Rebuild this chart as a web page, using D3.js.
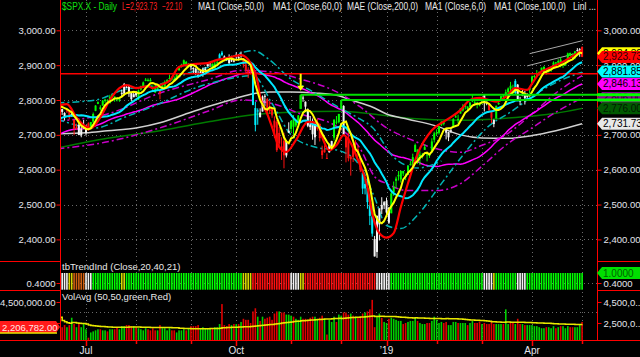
<!DOCTYPE html>
<html>
<head>
<meta charset="utf-8">
<script src="https://cdn.jsdelivr.net/npm/d3@7"></script>
<style>
body { margin: 0; background: #000; }
svg { display: block; }
text { font-family: 'Liberation Sans', Arial, sans-serif; }
</style>
</head>
<body>
<div id="chart"></div>
<script>
// trading days shown on the chart (Jun 14 2018 .. May 1 2019)
var tradingDays = {
  '2018-06': [14, 15, 18, 19, 20, 21, 22, 25, 26, 27, 28, 29],
  '2018-07': [2, 3, 5, 6, 9, 10, 11, 12, 13, 16, 17, 18, 19, 20, 23, 24, 25, 26, 27, 30, 31],
  '2018-08': [1, 2, 3, 6, 7, 8, 9, 10, 13, 14, 15, 16, 17, 20, 21, 22, 23, 24, 27, 28, 29, 30, 31],
  '2018-09': [4, 5, 6, 7, 10, 11, 12, 13, 14, 17, 18, 19, 20, 21, 24, 25, 26, 27, 28],
  '2018-10': [1, 2, 3, 4, 5, 8, 9, 10, 11, 12, 15, 16, 17, 18, 19, 22, 23, 24, 25, 26, 29, 30, 31],
  '2018-11': [1, 2, 5, 6, 7, 8, 9, 12, 13, 14, 15, 16, 19, 20, 21, 23, 26, 27, 28, 29, 30],
  '2018-12': [3, 4, 6, 7, 10, 11, 12, 13, 14, 17, 18, 19, 20, 21, 24, 26, 27, 28, 31],
  '2019-01': [2, 3, 4, 7, 8, 9, 10, 11, 14, 15, 16, 17, 18, 22, 23, 24, 25, 28, 29, 30, 31],
  '2019-02': [1, 4, 5, 6, 7, 8, 11, 12, 13, 14, 15, 19, 20, 21, 22, 25, 26, 27, 28],
  '2019-03': [1, 4, 5, 6, 7, 8, 11, 12, 13, 14, 15, 18, 19, 20, 21, 22, 25, 26, 27, 28, 29],
  '2019-04': [1, 2, 3, 4, 5, 8, 9, 10, 11, 12, 15, 16, 17, 18, 22, 23, 24, 25, 26, 29, 30],
  '2019-05': [1]
}

// closes before the first bar (Apr 2 .. Jun 13 2018), only used to warm up the averages
var warmupClose = [2581.88, 2614.45, 2644.69, 2662.84, 2604.47, 2613.16, 2656.87, 2642.19, 2663.99, 2656.30, 2677.84, 2706.39, 2708.64, 2693.13, 2670.14, 2670.29, 2634.56, 2639.40, 2666.94, 2669.91, 2648.05,
  2654.80, 2635.67, 2629.73, 2663.42, 2672.63, 2671.92, 2697.79, 2723.07, 2727.72, 2730.13, 2711.45, 2722.46, 2720.13, 2712.97, 2733.01, 2724.44, 2733.29, 2727.76, 2721.33, 2689.86, 2724.01, 2705.27,
  2734.62, 2746.87, 2748.80, 2772.35, 2770.37, 2779.03, 2782.00, 2786.85, 2775.63]

var openPx = [2783, 2778, 2766, 2752, 2770, 2769, 2760, 2743, 2722, 2729, 2699, 2728,
  2705, 2733, 2724, 2738, 2769, 2789, 2779, 2784, 2797, 2799, 2791, 2811, 2810, 2804, 2799, 2820, 2818, 2836, 2843, 2820, 2808,
  2822, 2802, 2830, 2840, 2855, 2856, 2858, 2838, 2835, 2828, 2827, 2831, 2838, 2853, 2861, 2860, 2860, 2862, 2885, 2901, 2900, 2909, 2899,
  2897, 2892, 2889, 2868, 2882, 2872, 2889, 2897, 2906, 2904, 2891, 2906, 2916, 2936, 2925, 2921, 2917, 2911, 2910,
  2926, 2923, 2932, 2919, 2902, 2878, 2883, 2874, 2777, 2770, 2764, 2767, 2812, 2803, 2776, 2774, 2721, 2737, 2675, 2667, 2683, 2641, 2706,
  2717, 2745, 2727, 2738, 2775, 2807, 2795, 2773, 2730, 2738, 2693, 2718, 2731, 2655, 2658, 2634, 2650, 2663, 2692, 2736, 2737,
  2790, 2783, 2664, 2691, 2630, 2664, 2658, 2659, 2635, 2591, 2559, 2547, 2497, 2466, 2401, 2364, 2443, 2499, 2498,
  2477, 2491, 2475, 2535, 2568, 2581, 2572, 2589, 2581, 2585, 2614, 2610, 2651, 2658, 2643, 2638, 2657, 2644, 2645, 2654, 2686,
  2703, 2706, 2728, 2736, 2718, 2693, 2713, 2722, 2751, 2743, 2761, 2770, 2780, 2781, 2780, 2804, 2793, 2787, 2789,
  2798, 2814, 2795, 2791, 2766, 2731, 2747, 2788, 2800, 2811, 2810, 2822, 2841, 2831, 2820, 2844, 2796, 2812, 2820, 2809, 2829,
  2848, 2869, 2877, 2873, 2884, 2888, 2886, 2882, 2892, 2901, 2908, 2912, 2916, 2904, 2899, 2910, 2935, 2928, 2926, 2941, 2937,
  2952]
var highPx = [2789, 2782, 2775, 2765, 2774, 2770, 2764, 2743, 2732, 2746, 2725, 2743,
  2727, 2736, 2737, 2764, 2785, 2796, 2785, 2800, 2804, 2802, 2815, 2816, 2810, 2808, 2808, 2829, 2849, 2845, 2844, 2822, 2825,
  2826, 2830, 2841, 2853, 2863, 2862, 2863, 2842, 2843, 2843, 2827, 2850, 2856, 2860, 2873, 2867, 2868, 2876, 2898, 2904, 2916, 2912, 2906,
  2900, 2894, 2893, 2884, 2884, 2893, 2895, 2906, 2908, 2905, 2911, 2912, 2934, 2941, 2928, 2923, 2931, 2927, 2920,
  2937, 2932, 2939, 2920, 2910, 2894, 2894, 2874, 2795, 2776, 2776, 2813, 2817, 2806, 2797, 2778, 2753, 2743, 2723, 2693, 2706, 2685, 2736,
  2741, 2757, 2745, 2757, 2815, 2814, 2796, 2776, 2754, 2747, 2735, 2747, 2733, 2669, 2670, 2647, 2675, 2683, 2744, 2754, 2760,
  2800, 2785, 2697, 2708, 2640, 2674, 2685, 2670, 2635, 2601, 2573, 2585, 2509, 2504, 2410, 2468, 2489, 2521, 2510,
  2520, 2493, 2538, 2566, 2580, 2596, 2597, 2597, 2589, 2613, 2625, 2646, 2675, 2658, 2653, 2648, 2673, 2644, 2647, 2690, 2709,
  2716, 2725, 2739, 2739, 2720, 2709, 2719, 2748, 2761, 2758, 2776, 2788, 2790, 2782, 2794, 2814, 2804, 2795, 2793,
  2808, 2817, 2795, 2791, 2766, 2744, 2784, 2799, 2812, 2816, 2830, 2836, 2852, 2844, 2860, 2846, 2809, 2830, 2826, 2819, 2836,
  2870, 2872, 2886, 2882, 2893, 2896, 2886, 2889, 2893, 2911, 2909, 2917, 2922, 2908, 2910, 2936, 2936, 2934, 2940, 2949, 2949,
  2954]
var lowPx = [2776, 2762, 2757, 2741, 2763, 2744, 2752, 2699, 2715, 2699, 2693, 2718,
  2698, 2712, 2716, 2733, 2768, 2788, 2770, 2784, 2792, 2794, 2790, 2805, 2795, 2796, 2795, 2811, 2813, 2835, 2809, 2796, 2808,
  2809, 2800, 2827, 2836, 2854, 2853, 2853, 2826, 2820, 2826, 2802, 2831, 2833, 2850, 2860, 2856, 2854, 2862, 2885, 2893, 2899, 2895, 2893,
  2885, 2876, 2872, 2864, 2874, 2867, 2880, 2896, 2895, 2887, 2890, 2903, 2916, 2926, 2912, 2913, 2903, 2909, 2908,
  2917, 2913, 2921, 2893, 2875, 2863, 2874, 2785, 2710, 2729, 2750, 2767, 2782, 2756, 2760, 2749, 2691, 2651, 2667, 2628, 2604, 2635, 2706,
  2708, 2700, 2722, 2734, 2774, 2795, 2766, 2722, 2714, 2686, 2671, 2712, 2681, 2631, 2649, 2631, 2649, 2656, 2684, 2730, 2733,
  2774, 2697, 2621, 2624, 2583, 2622, 2650, 2637, 2593, 2530, 2529, 2488, 2441, 2408, 2351, 2347, 2397, 2473, 2487,
  2467, 2444, 2475, 2525, 2547, 2569, 2563, 2582, 2570, 2585, 2612, 2606, 2651, 2617, 2613, 2632, 2657, 2624, 2634, 2648, 2678,
  2697, 2701, 2725, 2727, 2687, 2682, 2705, 2722, 2749, 2733, 2761, 2767, 2773, 2767, 2780, 2794, 2789, 2776, 2782,
  2788, 2767, 2785, 2768, 2734, 2722, 2747, 2786, 2800, 2804, 2810, 2818, 2823, 2813, 2817, 2800, 2785, 2811, 2787, 2802, 2819,
  2848, 2862, 2868, 2870, 2883, 2880, 2873, 2879, 2881, 2899, 2897, 2905, 2894, 2892, 2899, 2908, 2926, 2916, 2917, 2939, 2924,
  2923]
var closePx = [2782.49, 2779.66, 2773.75, 2762.59, 2767.32, 2749.76, 2754.88, 2717.07, 2723.06, 2699.63, 2716.31, 2718.37,
  2726.71, 2713.22, 2736.61, 2759.82, 2784.17, 2793.84, 2774.02, 2798.29, 2801.31, 2798.43, 2809.55, 2815.62, 2804.49, 2801.83, 2806.98, 2820.40, 2846.07, 2837.44, 2818.82, 2802.60, 2816.29,
  2813.36, 2827.22, 2840.35, 2850.40, 2858.45, 2857.70, 2853.58, 2833.28, 2821.93, 2839.96, 2818.37, 2840.69, 2850.13, 2857.05, 2862.96, 2861.82, 2856.98, 2874.69, 2896.74, 2897.52, 2914.04, 2901.13, 2901.52,
  2896.72, 2888.60, 2878.05, 2871.68, 2877.13, 2887.89, 2888.92, 2904.18, 2904.98, 2888.80, 2904.31, 2907.95, 2930.75, 2929.67, 2919.37, 2915.56, 2905.97, 2914.00, 2913.98,
  2924.59, 2923.43, 2925.51, 2901.61, 2885.57, 2884.43, 2880.34, 2785.68, 2728.37, 2767.13, 2750.79, 2809.92, 2809.21, 2768.78, 2767.78, 2755.88, 2740.69, 2656.10, 2705.57, 2658.69, 2641.25, 2682.63, 2711.74,
  2740.37, 2723.06, 2738.31, 2755.45, 2813.89, 2806.83, 2781.01, 2726.22, 2722.18, 2701.58, 2730.20, 2736.27, 2690.73, 2641.89, 2649.93, 2632.56, 2673.45, 2682.17, 2743.79, 2737.80, 2760.17,
  2790.37, 2700.06, 2695.95, 2633.08, 2637.72, 2636.78, 2651.07, 2650.54, 2599.95, 2545.94, 2546.16, 2506.96, 2467.42, 2416.62, 2351.10, 2467.70, 2488.83, 2485.74, 2506.85,
  2510.03, 2447.89, 2531.94, 2549.69, 2574.41, 2584.96, 2596.64, 2596.26, 2582.61, 2610.30, 2616.10, 2635.96, 2670.71, 2632.90, 2638.70, 2642.33, 2664.76, 2643.85, 2640.00, 2681.05, 2704.10,
  2706.53, 2724.87, 2737.70, 2731.61, 2706.05, 2707.88, 2709.80, 2744.73, 2753.03, 2745.73, 2775.60, 2779.76, 2784.70, 2774.88, 2792.67, 2796.11, 2793.90, 2792.38, 2784.49,
  2803.69, 2792.81, 2789.65, 2771.45, 2748.93, 2743.07, 2783.30, 2791.52, 2810.92, 2808.48, 2822.48, 2832.94, 2832.57, 2824.23, 2854.88, 2800.71, 2798.36, 2818.46, 2805.37, 2815.44, 2834.40,
  2867.19, 2867.24, 2873.40, 2879.39, 2892.74, 2895.77, 2878.20, 2888.21, 2888.32, 2907.41, 2905.58, 2907.06, 2900.45, 2905.03, 2907.97, 2933.68, 2927.25, 2926.17, 2939.88, 2943.03, 2945.83,
  2923.73]

// volume, millions of shares
var volumeMil = [2.2, 3.9, 2.1, 2.3, 2.1, 2.3, 3.0, 2.4, 2.1, 2.4, 2.1, 2.5,
  1.9, 1.1, 1.6, 1.7, 1.8, 1.9, 1.9, 1.8, 1.8, 1.7, 1.9, 1.9, 1.9, 2.1, 1.9, 2.2, 2.2, 2.3, 2.3, 2.2, 2.2,
  2.1, 2.0, 1.9, 1.8, 2.0, 1.9, 1.8, 2.0, 1.8, 1.8, 2.3, 2.0, 2.0, 1.8, 2.0, 1.8, 1.8, 1.6, 1.8, 1.8, 1.9, 1.8, 2.0,
  2.2, 2.2, 2.2, 2.3, 2.0, 2.1, 2.0, 2.0, 2.0, 2.0, 2.1, 2.1, 2.4, 4.3, 2.3, 2.2, 2.4, 2.3, 2.4,
  2.4, 2.4, 2.6, 2.9, 2.8, 2.8, 2.5, 3.6, 3.9, 3.1, 2.7, 3.1, 2.9, 3.0, 3.1, 2.8, 3.4, 3.6, 3.6, 3.5, 3.5, 3.3, 3.3,
  3.2, 3.1, 2.9, 2.8, 3.1, 2.9, 2.9, 2.8, 3.0, 3.1, 3.1, 2.8, 3.0, 3.2, 2.9, 1.4, 2.8, 2.6, 3.1, 2.6, 3.3,
  3.2, 3.5, 3.5, 3.3, 3.4, 3.2, 3.1, 3.0, 3.1, 3.4, 3.5, 3.6, 3.8, 4.7, 2.1, 3.2, 3.4, 3.0, 2.6,
  2.5, 2.9, 3.0, 2.9, 2.8, 2.7, 2.7, 2.4, 2.5, 2.6, 2.7, 2.7, 3.0, 2.7, 2.5, 2.4, 2.4, 2.5, 2.5, 2.7, 3.1,
  2.8, 2.5, 2.6, 2.5, 2.6, 2.3, 2.3, 2.6, 2.6, 2.5, 2.5, 2.5, 2.5, 2.3, 2.5, 2.7, 2.5, 2.5, 2.6,
  2.4, 2.5, 2.4, 2.4, 2.6, 2.4, 2.4, 2.4, 2.4, 2.4, 3.8, 2.4, 2.5, 2.6, 2.4, 2.9, 2.4, 2.4, 2.3, 2.3, 2.3,
  2.3, 2.2, 2.2, 2.1, 2.0, 2.0, 2.1, 2.1, 2.0, 2.2, 2.0, 2.1, 2.2, 2.2, 2.0, 2.2, 2.1, 2.1, 2.1, 2.1, 2.4,
  2.6]
var volAvgLast = 2206782

// bar colours: G green, R red, W white, C cyan (each run starts at the date given)
var candleRuns = [['2018-06-14', 'R'], ['2018-06-18', 'W'], ['2018-06-20', 'R'], ['2018-06-22', 'W'], ['2018-06-25', 'R'], ['2018-06-27', 'W'],
  ['2018-07-03', 'R'], ['2018-07-05', 'G'], ['2018-07-24', 'W'], ['2018-08-02', 'G'], ['2018-08-15', 'R'], ['2018-08-16', 'G'],
  ['2018-09-04', 'W'], ['2018-09-17', 'G'], ['2018-09-20', 'C'], ['2018-09-24', 'W'], ['2018-10-04', 'R'], ['2018-10-10', 'C'],
  ['2018-10-15', 'W'], ['2018-10-18', 'R'], ['2018-10-30', 'W'], ['2018-11-01', 'G'], ['2018-11-08', 'W'], ['2018-11-16', 'R'],
  ['2018-11-26', 'W'], ['2018-11-28', 'G'], ['2018-12-04', 'W'], ['2018-12-06', 'R'], ['2018-12-17', 'C'], ['2018-12-24', 'W'],
  ['2019-01-04', 'G'], ['2019-02-07', 'W'], ['2019-02-12', 'G'], ['2019-03-04', 'W'], ['2019-03-06', 'R'], ['2019-03-08', 'W'],
  ['2019-03-11', 'G'], ['2019-03-21', 'C'], ['2019-03-22', 'W'], ['2019-03-29', 'G'], ['2019-04-29', 'W'], ['2019-05-01', 'R']]

// tbTrendInd colours: G green, Y yellow, W white, O orange, R red
var trendRuns = [['2018-06-14', 'Y'], ['2018-06-18', 'W'], ['2018-06-21', 'Y'], ['2018-06-25', 'O'], ['2018-07-02', 'W'], ['2018-07-06', 'G'],
  ['2018-07-24', 'Y'], ['2018-07-26', 'G'], ['2018-10-04', 'Y'], ['2018-10-10', 'R'], ['2018-11-01', 'W'], ['2018-11-07', 'Y'],
  ['2018-11-09', 'R'], ['2018-12-26', 'W'], ['2019-01-04', 'G'], ['2019-03-04', 'W'], ['2019-03-08', 'Y'], ['2019-03-11', 'G'],
  ['2019-03-22', 'W'], ['2019-03-28', 'G']]

// long averages (date, price)
var ma100Pts = [['2018-06-14', 2703], ['2018-07-02', 2706], ['2018-07-16', 2712], ['2018-08-01', 2720], ['2018-08-15', 2735], ['2018-09-04', 2765],
  ['2018-09-17', 2785], ['2018-10-01', 2805], ['2018-10-10', 2818], ['2018-10-19', 2823], ['2018-11-01', 2823], ['2018-11-15', 2820],
  ['2018-11-30', 2812], ['2018-12-10', 2800], ['2018-12-21', 2780], ['2019-01-02', 2760], ['2019-01-15', 2745], ['2019-02-01', 2725],
  ['2019-02-15', 2700], ['2019-03-01', 2691], ['2019-03-15', 2690], ['2019-04-01', 2698], ['2019-04-15', 2712], ['2019-05-01', 2731.73]]
var ma200Pts = [['2018-06-14', 2662], ['2018-07-16', 2690], ['2018-08-15', 2712], ['2018-09-14', 2738], ['2018-10-10', 2758], ['2018-11-01', 2765],
  ['2018-12-03', 2768], ['2018-12-21', 2760], ['2019-01-15', 2748], ['2019-02-15', 2742], ['2019-03-15', 2748], ['2019-04-15', 2762], ['2019-05-01', 2776]]
var redLinePts = [['2018-06-15', 2785], ['2018-06-20', 2788], ['2018-06-26', 2750], ['2018-06-29', 2728], ['2018-07-05', 2719], ['2018-07-11', 2750],
  ['2018-07-17', 2800], ['2018-07-23', 2834], ['2018-07-26', 2843], ['2018-08-01', 2834], ['2018-08-08', 2840], ['2018-08-10', 2834],
  ['2018-08-15', 2843], ['2018-08-21', 2855], ['2018-08-27', 2895], ['2018-09-05', 2903], ['2018-09-13', 2906], ['2018-09-19', 2915],
  ['2018-09-25', 2920], ['2018-10-03', 2929], ['2018-10-09', 2906], ['2018-10-12', 2850], ['2018-10-15', 2810], ['2018-10-18', 2760],
  ['2018-10-22', 2722], ['2018-10-25', 2665], ['2018-10-30', 2651], ['2018-11-05', 2685], ['2018-11-12', 2737], ['2018-11-16', 2734],
  ['2018-11-20', 2694], ['2018-11-26', 2656], ['2018-11-29', 2670], ['2018-12-04', 2699], ['2018-12-10', 2676], ['2018-12-13', 2628],
  ['2018-12-19', 2550], ['2018-12-21', 2475], ['2018-12-27', 2418], ['2019-01-02', 2405], ['2019-01-07', 2418], ['2019-01-10', 2493],
  ['2019-01-15', 2561], ['2019-01-22', 2645], ['2019-01-30', 2713], ['2019-02-07', 2742], ['2019-02-15', 2771], ['2019-02-22', 2800],
  ['2019-02-28', 2806], ['2019-03-06', 2800], ['2019-03-11', 2795], ['2019-03-15', 2809], ['2019-03-21', 2834], ['2019-03-28', 2829],
  ['2019-04-01', 2847], ['2019-04-04', 2877], ['2019-04-10', 2891], ['2019-04-17', 2906], ['2019-05-01', 2943]]
var cyanDashHi = [['2018-06-14', 2792], ['2018-07-09', 2800], ['2018-07-25', 2830], ['2018-08-15', 2845], ['2018-09-04', 2880], ['2018-09-20', 2905],
  ['2018-10-03', 2935], ['2018-10-10', 2942], ['2018-10-19', 2915], ['2018-10-31', 2865], ['2018-11-15', 2820], ['2018-12-03', 2775],
  ['2018-12-14', 2745], ['2018-12-21', 2722], ['2019-01-07', 2636], ['2019-01-22', 2605], ['2019-02-05', 2625]]
var cyanDashLo = [['2018-06-14', 2745], ['2018-07-09', 2720], ['2018-07-25', 2750], ['2018-08-15', 2790], ['2018-09-04', 2830], ['2018-09-20', 2855],
  ['2018-10-10', 2870], ['2018-10-22', 2790], ['2018-11-01', 2700], ['2018-11-15', 2665], ['2018-11-30', 2655], ['2018-12-14', 2610],
  ['2018-12-24', 2520], ['2019-01-02', 2440], ['2019-01-10', 2431], ['2019-01-22', 2470], ['2019-02-05', 2560], ['2019-02-20', 2650],
  ['2019-03-05', 2720], ['2019-03-20', 2770], ['2019-04-01', 2810], ['2019-04-15', 2850], ['2019-05-01', 2880]]
var magDashHi = [['2018-06-14', 2740], ['2018-07-16', 2760], ['2018-08-15', 2820], ['2018-09-14', 2860], ['2018-10-03', 2885], ['2018-10-22', 2880],
  ['2018-11-07', 2860], ['2018-11-30', 2820], ['2018-12-14', 2780], ['2019-01-02', 2720], ['2019-01-15', 2690], ['2019-02-01', 2660],
  ['2019-02-15', 2650], ['2019-03-01', 2670], ['2019-03-15', 2700], ['2019-04-01', 2760], ['2019-04-15', 2820], ['2019-05-01', 2870]]
var magDashLo = [['2018-06-14', 2660], ['2018-07-16', 2680], ['2018-08-15', 2720], ['2018-09-14', 2770], ['2018-10-03', 2800], ['2018-10-22', 2790],
  ['2018-11-07', 2760], ['2018-11-30', 2720], ['2018-12-14', 2660], ['2018-12-24', 2580], ['2019-01-02', 2560], ['2019-01-15', 2540],
  ['2019-02-01', 2540], ['2019-02-15', 2560], ['2019-03-01', 2610], ['2019-03-15', 2670], ['2019-04-01', 2720], ['2019-04-15', 2765], ['2019-05-01', 2806]]
var channelHi = [['2019-03-29', 2933], ['2019-05-01', 2970]]
var channelLo = [['2019-03-28', 2898], ['2019-05-01', 2938]]

var redLevel = 2875.6
var highMarks = ['2018-11-07', '2018-12-03']
var arrowDate = '2018-11-07'
var quarterLabels = { '2018-07': 'Jul', '2018-10': 'Oct', '2019-01': '\u201919', '2019-04': 'Apr' }
var titleParts = [
  { t: '$SPX.X - Daily', x: 62, w: 55, c: '#10e010' },
  { t: 'L=', x: 122, w: 35, c: '#ff2020' },
  { t: '', x: 162, w: 20, c: '#ff2020' },
  { t: 'MA1 (Close,50,0)', x: 198, w: 66, c: '#e8e8e8' },
  { t: 'MA1 (Close,60,0)', x: 273, w: 69, c: '#e8e8e8' },
  { t: 'MAE (Close,200,0)', x: 347, w: 71, c: '#e8e8e8' },
  { t: 'MA1 (Close,6,0)', x: 425, w: 61, c: '#e8e8e8' },
  { t: 'MA1 (Close,100,0)', x: 494, w: 72, c: '#e8e8e8' },
  { t: 'Linl ...', x: 573, w: 23, c: '#e8e8e8' }
]

// ---- setup ----
var W = 640, H = 357
var plotL = 60, plotR = 597
var mainBot = 261, trendBot = 290, volBot = 340

var dates = []
Object.keys(tradingDays).forEach(function (m) {
  tradingDays[m].forEach(function (d) { dates.push(m + '-' + (d < 10 ? '0' + d : d)) })
})
var idx = {}
dates.forEach(function (d, i) { idx[d] = i })
var n = dates.length
var allClose = warmupClose.concat(closePx)
var off = warmupClose.length

function sma (arr, len, k) {
  var s = 0, c = 0
  for (var j = Math.max(0, k - len + 1); j <= k; j++) { s += arr[j]; c++ }
  return s / c
}
function maSeries (len) {
  return dates.map(function (d, i) { return { i: i, v: sma(allClose, len, i + off) } })
}
function pts (list) {
  return list.map(function (p) { return { i: idx[p[0]], v: p[1] } })
}
function runsToArray (runs) {
  var r = 0
  return dates.map(function (d) {
    while (r + 1 < runs.length && runs[r + 1][0] <= d) r++
    return runs[r][1]
  })
}

var fmt = d3.format(',.2f')
var colorOf = { G: '#00ff00', R: '#ff1010', W: '#f4f4f4', C: '#00f0ff', Y: '#d8d800', O: '#d06010' }

var x = d3.scaleLinear().domain([0, n - 1]).range([57.4, 582.1])
var y = d3.scaleLinear().domain([2338, 3087]).range([mainBot, 0])
var yTrend = d3.scaleLinear().domain([0, 1]).range([289.7, 273])
var yVol = d3.scaleLinear().domain([0.88, 5.64]).range([volBot, trendBot])

var svg = d3.select('#chart').append('svg').attr('width', W).attr('height', H)
svg.append('rect').attr('width', W).attr('height', H).attr('fill', '#000')

var defs = svg.append('defs')
defs.append('clipPath').attr('id', 'mainClip').append('rect')
  .attr('x', plotL + 1).attr('y', 0).attr('width', plotR - plotL - 1).attr('height', mainBot)
defs.append('clipPath').attr('id', 'lowClip').append('rect')
  .attr('x', plotL + 1).attr('y', mainBot).attr('width', plotR - plotL - 1).attr('height', volBot - mainBot)

// month starts
var monthStarts = []
dates.forEach(function (d, i) {
  if (i > 0 && d.slice(0, 7) !== dates[i - 1].slice(0, 7)) monthStarts.push(i)
})

// ---- grid ----
var grid = svg.append('g').attr('stroke', '#6a6a6a').attr('stroke-dasharray', '1,3').attr('stroke-width', 1)
monthStarts.forEach(function (i) {
  grid.append('line').attr('x1', Math.round(x(i)) + 0.5).attr('x2', Math.round(x(i)) + 0.5).attr('y1', 0).attr('y2', volBot)
})
var priceTicks = [2400, 2500, 2600, 2700, 2800, 2900, 3000]
priceTicks.forEach(function (p) {
  grid.append('line').attr('x1', plotL).attr('x2', plotR).attr('y1', Math.round(y(p)) + 0.5).attr('y2', Math.round(y(p)) + 0.5)
})
grid.append('line').attr('x1', plotL).attr('x2', plotR).attr('y1', Math.round(yVol(3.5)) + 0.5).attr('y2', Math.round(yVol(3.5)) + 0.5)
grid.append('line').attr('x1', plotL).attr('x2', plotR).attr('y1', Math.round(yTrend(0.4)) + 0.5).attr('y2', Math.round(yTrend(0.4)) + 0.5)

// ---- main panel ----
var main = svg.append('g').attr('clip-path', 'url(#mainClip)')
var line = d3.line().x(function (d) { return x(d.i) }).y(function (d) { return y(d.v) })
var smooth = d3.line().x(function (d) { return x(d.i) }).y(function (d) { return y(d.v) }).curve(d3.curveMonotoneX)

main.append('path').datum(pts(ma200Pts)).attr('d', smooth).attr('fill', 'none').attr('stroke', '#007a00').attr('stroke-width', 1.5)
main.append('path').datum(pts(ma100Pts)).attr('d', smooth).attr('fill', 'none').attr('stroke', '#d0d0d0').attr('stroke-width', 1.5)
;[magDashHi, magDashLo].forEach(function (s) {
  main.append('path').datum(pts(s)).attr('d', smooth).attr('fill', 'none').attr('stroke', '#c800c8')
    .attr('stroke-width', 1.5).attr('stroke-dasharray', '7,3,2,3')
})
main.append('path').datum(maSeries(50)).attr('d', line).attr('fill', 'none').attr('stroke', '#ff00ff').attr('stroke-width', 1.5)
;[cyanDashHi, cyanDashLo].forEach(function (s) {
  main.append('path').datum(pts(s)).attr('d', smooth).attr('fill', 'none').attr('stroke', '#00b4b4')
    .attr('stroke-width', 1.5).attr('stroke-dasharray', '7,3,2,3')
})
;[channelHi, channelLo].forEach(function (s) {
  main.append('path').datum(pts(s)).attr('d', line).attr('fill', 'none').attr('stroke', '#a8a8a8').attr('stroke-width', 1)
})

// candles
var cCol = runsToArray(candleRuns)
var candles = main.append('g')
dates.forEach(function (d, i) {
  var c = colorOf[cCol[i]]
  var cx = x(i)
  candles.append('line').attr('x1', cx).attr('x2', cx).attr('y1', y(highPx[i])).attr('y2', y(lowPx[i]))
    .attr('stroke', c).attr('stroke-width', 1)
  var top = y(Math.max(openPx[i], closePx[i]))
  var bot = y(Math.min(openPx[i], closePx[i]))
  candles.append('rect').attr('x', cx - 1).attr('width', 2).attr('y', top).attr('height', Math.max(1, bot - top)).attr('fill', c)
})

// drawn levels
main.append('line').attr('x1', plotL).attr('x2', plotR).attr('y1', y(redLevel)).attr('y2', y(redLevel))
  .attr('stroke', '#ff0000').attr('stroke-width', 1.5)

main.append('path').datum(maSeries(20)).attr('d', line).attr('fill', 'none').attr('stroke', '#00e8ff').attr('stroke-width', 2)
main.append('path').datum(pts(redLinePts)).attr('d', smooth).attr('fill', 'none').attr('stroke', '#ff0000').attr('stroke-width', 2.2)
main.append('path').datum(maSeries(6)).attr('d', line).attr('fill', 'none').attr('stroke', '#ffff00').attr('stroke-width', 2)

// high marks from Nov 7 and Dec 3, run to the right edge
highMarks.forEach(function (d) {
  var i = idx[d]
  svg.append('line').attr('x1', x(i)).attr('x2', x(i)).attr('y1', y(highPx[i])).attr('y2', y(lowPx[i]))
    .attr('stroke', '#00e000').attr('stroke-width', 2)
  svg.append('line').attr('x1', x(i)).attr('x2', W).attr('y1', y(highPx[i])).attr('y2', y(highPx[i]))
    .attr('stroke', '#00e000').attr('stroke-width', 2)
})

// arrow over Nov 7
var ai = idx[arrowDate]
var tip = y(highPx[ai]) - 4
svg.append('line').attr('x1', x(ai)).attr('x2', x(ai)).attr('y1', tip - 17).attr('y2', tip - 4)
  .attr('stroke', '#ffff00').attr('stroke-width', 2)
svg.append('path').attr('d', 'M' + (x(ai) - 3.5) + ',' + (tip - 5) + 'L' + (x(ai) + 3.5) + ',' + (tip - 5) + 'L' + x(ai) + ',' + tip + 'Z')
  .attr('fill', '#ffff00')

// ---- trend panel ----
var low = svg.append('g').attr('clip-path', 'url(#lowClip)')
var tCol = runsToArray(trendRuns)
dates.forEach(function (d, i) {
  low.append('rect').attr('x', x(i) - 0.8).attr('width', 1.6).attr('y', yTrend(1)).attr('height', yTrend(0) - yTrend(1))
    .attr('fill', colorOf[tCol[i]])
})

// ---- volume panel ----
dates.forEach(function (d, i) {
  var up = i === 0 ? true : closePx[i] >= closePx[i - 1]
  low.append('rect').attr('x', x(i) - 0.8).attr('width', 1.6).attr('y', yVol(volumeMil[i]))
    .attr('height', volBot - yVol(volumeMil[i])).attr('fill', up ? '#00d000' : '#e00000')
})
var volAvg = dates.map(function (d, i) { return { i: i, v: sma(volumeMil, 50, i) } })
low.append('path').datum(volAvg)
  .attr('d', d3.line().x(function (d) { return x(d.i) }).y(function (d) { return yVol(d.v) }).curve(d3.curveStepAfter))
  .attr('fill', 'none').attr('stroke', '#e8e800').attr('stroke-width', 1.5)

// ---- frame ----
var red = '#ff0000'
svg.append('line').attr('x1', plotL + 0.5).attr('x2', plotL + 0.5).attr('y1', 0).attr('y2', volBot).attr('stroke', red)
svg.append('line').attr('x1', plotR + 0.5).attr('x2', plotR + 0.5).attr('y1', 0).attr('y2', volBot).attr('stroke', red)
svg.append('line').attr('x1', 0).attr('x2', W).attr('y1', volBot + 0.5).attr('y2', volBot + 0.5).attr('stroke', red)
;[mainBot, trendBot].forEach(function (yy) {
  svg.append('line').attr('x1', 0).attr('x2', plotL).attr('y1', yy + 0.5).attr('y2', yy + 0.5).attr('stroke', red)
  svg.append('line').attr('x1', plotR).attr('x2', W).attr('y1', yy + 0.5).attr('y2', yy + 0.5).attr('stroke', red)
})

function styleAxis (g) {
  g.select('.domain').remove()
  g.selectAll('line').attr('stroke', red)
  g.selectAll('text').attr('fill', '#e4e4ec').attr('font-size', 9.5)
  g.attr('font-family', null)
}
svg.append('g').attr('transform', 'translate(' + (plotL + 0.5) + ',0)')
  .call(d3.axisLeft(y).tickValues(priceTicks).tickFormat(fmt).tickSize(4).tickPadding(1)).call(styleAxis)
svg.append('g').attr('transform', 'translate(' + (plotR + 0.5) + ',0)')
  .call(d3.axisRight(y).tickValues(priceTicks).tickFormat(fmt).tickSize(4).tickPadding(2)).call(styleAxis)
svg.append('g').attr('transform', 'translate(' + (plotL + 0.5) + ',0)')
  .call(d3.axisLeft(yTrend).tickValues([0.4]).tickFormat(d3.format('.4f')).tickSize(4).tickPadding(1)).call(styleAxis)
svg.append('g').attr('transform', 'translate(' + (plotR + 0.5) + ',0)')
  .call(d3.axisRight(yTrend).tickValues([0.4]).tickFormat(d3.format('.4f')).tickSize(4).tickPadding(2)).call(styleAxis)
svg.append('g').attr('transform', 'translate(' + (plotL + 0.5) + ',0)')
  .call(d3.axisLeft(yVol).tickValues([2.5, 4.5]).tickFormat(function (v) { return fmt(v * 1e6) }).tickSize(4).tickPadding(1)).call(styleAxis)
svg.append('g').attr('transform', 'translate(' + (plotR + 0.5) + ',0)')
  .call(d3.axisRight(yVol).tickValues([2.5, 4.5]).tickFormat(function (v) { return fmt(v * 1e6).slice(0, 7) + '...' }).tickSize(4).tickPadding(2)).call(styleAxis)

// x axis
var xg = svg.append('g')
monthStarts.forEach(function (i) {
  var m = dates[i].slice(0, 7)
  var lab = quarterLabels[m]
  xg.append('line').attr('x1', Math.round(x(i)) + 0.5).attr('x2', Math.round(x(i)) + 0.5)
    .attr('y1', volBot).attr('y2', volBot + (lab ? 6 : 4)).attr('stroke', red).attr('stroke-width', 1.5)
  if (lab) {
    xg.append('text').attr('x', x(i)).attr('y', 354).attr('text-anchor', 'middle')
      .attr('font-size', 10).attr('fill', '#e4e4ec').text(lab)
  }
})

// ---- value tags on the right ----
function rightTag (v, bg, fg) {
  var yy = y(v)
  svg.append('path').attr('d', 'M' + plotR + ',' + yy + 'L' + (plotR + 5) + ',' + (yy - 6) + 'L' + W + ',' + (yy - 6) +
    'L' + W + ',' + (yy + 6) + 'L' + (plotR + 5) + ',' + (yy + 6) + 'Z').attr('fill', bg)
  svg.append('text').attr('x', plotR + 6).attr('y', yy + 3.5).attr('font-size', 10).attr('fill', fg).text(fmt(v))
}
var last = n - 1
rightTag(sma(allClose, 6, last + off), '#ffff00', '#000')
rightTag(closePx[last], '#ff0000', '#300000')
rightTag(sma(allClose, 30, last + off), '#00ffff', '#000')
rightTag(sma(allClose, 50, last + off), '#ff00ff', '#000')
rightTag(magDashLo[magDashLo.length - 1][1], '#8c008c', '#200020')
highMarks.forEach(function (d) {
  var i = idx[d]
  svg.append('line').attr('x1', plotR).attr('x2', W).attr('y1', y(highPx[i])).attr('y2', y(highPx[i]))
    .attr('stroke', '#00ff00').attr('stroke-width', 3)
})
rightTag(ma200Pts[ma200Pts.length - 1][1], '#005a00', '#001800')
rightTag(ma100Pts[ma100Pts.length - 1][1], '#e8e8e8', '#000')

// trend value tag
var ty = yTrend(1)
svg.append('path').attr('d', 'M' + plotR + ',' + ty + 'L' + (plotR + 5) + ',' + (ty - 6) + 'L' + W + ',' + (ty - 6) +
  'L' + W + ',' + (ty + 6) + 'L' + (plotR + 5) + ',' + (ty + 6) + 'Z').attr('fill', '#00e000')
svg.append('text').attr('x', plotR + 6).attr('y', ty + 3.5).attr('font-size', 10).attr('fill', '#006000').text(d3.format('.4f')(1))

// volume average tag on the left
var vy = 327
svg.append('path').attr('d', 'M0,' + (vy - 6) + 'L' + (plotL - 4) + ',' + (vy - 6) + 'L' + plotL + ',' + vy + 'L' + (plotL - 4) + ',' + (vy + 6) + 'L0,' + (vy + 6) + 'Z')
  .attr('fill', '#ff1a1a')
svg.append('line').attr('x1', 0).attr('x2', plotL - 3).attr('y1', vy + 6).attr('y2', vy + 6).attr('stroke', '#e8e800').attr('stroke-width', 1.5)
svg.append('text').attr('x', 2).attr('y', vy + 3.5).attr('font-size', 9.5).attr('fill', '#ffe8e8').text(fmt(volAvgLast))

// ---- titles ----
var lastChange = closePx[last] - closePx[last - 1]
titleParts[1].t = 'L=' + fmt(closePx[last])
titleParts[2].t = d3.format('.2f')(lastChange)
titleParts.forEach(function (p) {
  svg.append('text').attr('x', p.x).attr('y', 10).attr('font-size', 10).attr('fill', p.c)
    .attr('textLength', p.w).attr('lengthAdjust', 'spacingAndGlyphs').text(p.t)
})
svg.append('text').attr('x', 62).attr('y', 270).attr('font-size', 9.5).attr('fill', '#e8e8e8').text('tbTrendInd (Close,20,40,21)')
svg.append('text').attr('x', 62).attr('y', 300).attr('font-size', 9.5).attr('fill', '#e8e8e8').text('VolAvg (50,50,green,Red)')
</script>
</body>
</html>
